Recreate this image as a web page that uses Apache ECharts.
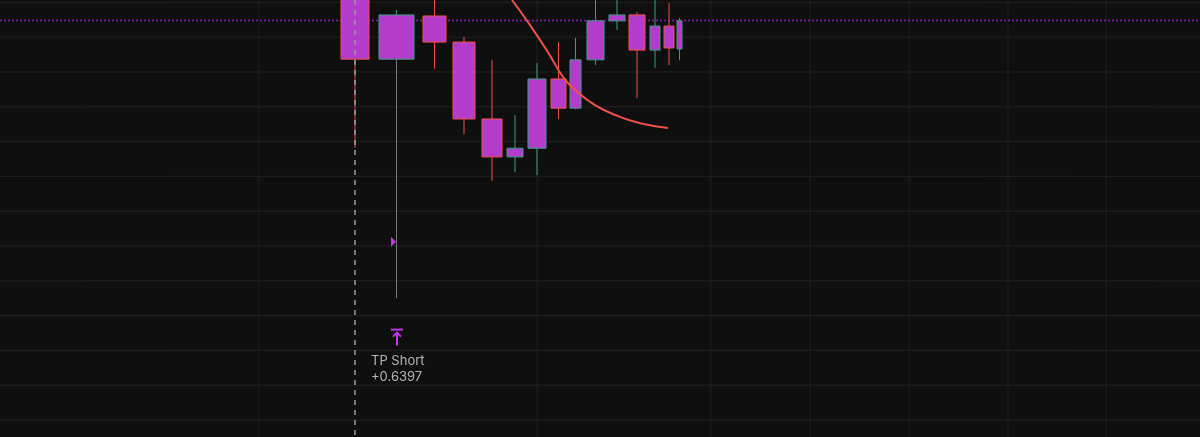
<!DOCTYPE html>
<html>
<head>
<meta charset="utf-8">
<script src="https://cdn.jsdelivr.net/npm/echarts@6/dist/echarts.min.js"></script>
<style>
  html, body { margin: 0; padding: 0; background: #0f0f0f; }
  #chart { width: 1200px; height: 437px; }
</style>
</head>
<body>
<div id="chart"></div>
<script>
// bar position (time units) and width
var barX = [355, 396.5, 434.5, 464, 492, 515, 537, 558.5, 575.5, 595.5, 617, 637, 655, 669, 679.5]
var barW = [28, 35, 23, 22, 20, 16, 18, 15, 11, 17, 16, 16, 10, 10, 5]
// price values (1 unit = one grid row)
var opens  = [13.35, 11.37, 12.61, 11.86, 9.65, 8.56, 8.81, 10.80, 9.96, 11.35, 12.47, 12.64, 11.63, 12.32, 11.66]
var closes = [11.37, 12.64, 11.86, 9.65, 8.56, 8.81, 10.80, 9.96, 11.35, 12.47, 12.64, 11.63, 12.32, 11.69, 12.47]
var highs  = [13.50, 12.78, 13.30, 12.01, 11.34, 9.76, 11.26, 11.86, 11.98, 13.30, 13.30, 12.72, 13.30, 12.98, 12.55]
var lows   = [8.82, 4.50, 11.09, 9.22, 7.87, 8.12, 8.04, 9.65, 9.93, 11.20, 12.21, 10.25, 11.12, 11.20, 11.34]
// moving average line
var maX = [512, 530, 548, 563, 575, 595, 620, 640, 668]
var maY = [13.07, 12.35, 11.57, 10.86, 10.49, 10.05, 9.71, 9.53, 9.39]
var tpLevel = 12.48
var entryX = 355
var tpX = 397
var tpPrice = 4.0
var arrowPrice = 6.12
var gridXs = [259, 537, 711, 810, 909, 1008, 1106]
var gridYs = [1, 2, 3, 4, 5, 6, 7, 8, 9, 10, 11, 12, 13]

var BODY = '#b43ccb', RED = '#f0524a', GREEN = '#3a9e86'

var candles = barX.map(function (x, i) {
  return [x, opens[i], closes[i], lows[i], highs[i], barW[i]]
})

var chart = echarts.init(document.getElementById('chart'))
chart.setOption({
  backgroundColor: '#0f0f0f',
  animation: false,
  grid: { left: 0, right: 0, top: 0, bottom: 0 },
  xAxis: { type: 'value', min: 0, max: 1200, show: false },
  yAxis: { type: 'value', min: 0.5115, max: 13.069, show: false },
  series: [{
    type: 'custom',
    silent: true,
    data: gridXs.map(function (x) { return [x] }),
    renderItem: function (params, api) {
      var x = api.coord([api.value(0), 1])[0]
      return { type: 'line', shape: { x1: x, y1: 0, x2: x, y2: 437 },
        style: { stroke: '#1e1e1e', lineWidth: 1 } }
    }
  }, {
    type: 'custom',
    silent: true,
    data: gridYs.map(function (y) { return [0, y] }),
    renderItem: function (params, api) {
      var y = api.coord([0, api.value(1)])[1]
      return { type: 'line', shape: { x1: 0, y1: y, x2: 1200, y2: y },
        style: { stroke: '#222222', lineWidth: 1 } }
    }
  }, {
    type: 'line',
    data: [[0, tpLevel], [1200, tpLevel]],
    symbol: 'none',
    lineStyle: { color: '#8a1fa8', width: 1.5, type: [2, 2] },
    z: 3
  }, {
    type: 'custom',
    data: candles,
    z: 4,
    renderItem: function (params, api) {
      var x = api.value(0), o = api.value(1), c = api.value(2)
      var lo = api.value(3), hi = api.value(4), w = api.size([api.value(5), 0])[0]
      var pO = api.coord([x, o]), pC = api.coord([x, c])
      var pL = api.coord([x, lo]), pH = api.coord([x, hi])
      var col = c >= o ? GREEN : RED
      var top = Math.min(pO[1], pC[1]), bot = Math.max(pO[1], pC[1])
      return { type: 'group', children: [
        { type: 'line', shape: { x1: pH[0], y1: pH[1], x2: pH[0], y2: top },
          style: { stroke: col, lineWidth: 1 } },
        { type: 'line', shape: { x1: pL[0], y1: bot, x2: pL[0], y2: pL[1] },
          style: { stroke: params.dataIndex === 1 ? '#777777' : col, lineWidth: 1 } },
        { type: 'rect', shape: { x: pO[0] - w / 2, y: top, width: w, height: Math.max(bot - top, 1) },
          style: { fill: BODY, stroke: col, lineWidth: 1 } }
      ] }
    }
  }, {
    type: 'line',
    data: maX.map(function (x, i) { return [x, maY[i]] }),
    symbol: 'none',
    smooth: true,
    lineStyle: { color: RED, width: 2 },
    z: 5
  }, {
    type: 'custom',
    data: [[entryX, tpX, tpPrice, arrowPrice]],
    z: 6,
    renderItem: function (params, api) {
      var ex = api.coord([api.value(0), 1])[0]
      var tp = api.coord([api.value(1), api.value(2)])
      var ar = api.coord([api.value(1), api.value(3)])
      return { type: 'group', children: [
        { type: 'line', shape: { x1: ex, y1: 0, x2: ex, y2: 437 },
          style: { stroke: '#9a9a9a', lineWidth: 1.5, lineDash: [5, 5] } },
        { type: 'polygon', shape: { points: [[ar[0] - 6, ar[1] - 5], [ar[0] - 1, ar[1]], [ar[0] - 6, ar[1] + 5]] },
          style: { fill: '#c236e6' } },
        { type: 'line', shape: { x1: tp[0] - 6, y1: tp[1] + 14, x2: tp[0] + 6, y2: tp[1] + 14 },
          style: { stroke: '#c236e6', lineWidth: 2 } },
        { type: 'line', shape: { x1: tp[0], y1: tp[1] + 17, x2: tp[0], y2: tp[1] + 30 },
          style: { stroke: '#c236e6', lineWidth: 2 } },
        { type: 'polyline', shape: { points: [[tp[0] - 4, tp[1] + 21], [tp[0], tp[1] + 17], [tp[0] + 4, tp[1] + 21]] },
          style: { stroke: '#c236e6', lineWidth: 2, fill: null } },
        { type: 'text', x: tp[0] - 26, y: tp[1] + 37,
          style: { text: 'TP Short\n+0.6397', fill: '#b5b5b5', font: '13px Inter, "Noto Sans", sans-serif', lineHeight: 16 } }
      ] }
    }
  }]
})
</script>
</body>
</html>
